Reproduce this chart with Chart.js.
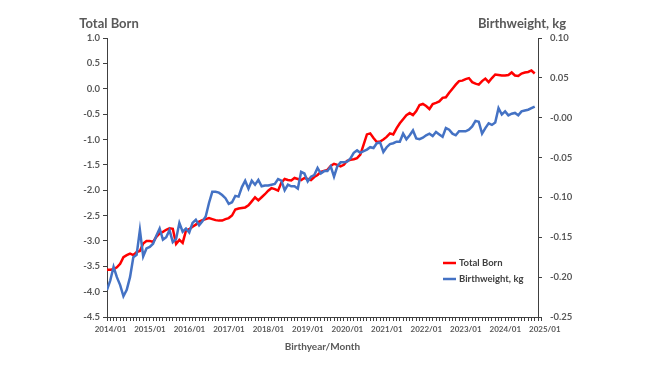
<!DOCTYPE html>
<html>
<head>
<meta charset="utf-8">
<script src="https://cdn.jsdelivr.net/npm/chart.js@4/dist/chart.umd.min.js"></script>
<style>
  html, body { margin: 0; padding: 0; background: #fff; }
  #wrap { width: 650px; height: 366px; }
</style>
</head>
<body>
<div id="wrap"><canvas id="birthChart" width="650" height="366"></canvas></div>
<script>
// yearly tick labels on the x axis (one every 12 months)
const yearLabels = ["2014/01", "2015/01", "2016/01", "2017/01", "2018/01", "2019/01",
  "2020/01", "2021/01", "2022/01", "2023/01", "2024/01", "2025/01"];

// monthly values from 2014/01, left axis
const totalBorn = [
  -3.57, -3.57, -3.56, -3.52, -3.45, -3.32, -3.28, -3.25, -3.28, -3.22, -3.20, -3.05,
  -3.00, -3.00, -3.02, -2.92, -2.85, -2.82, -2.78, -2.75, -2.76, -3.06, -2.98, -3.04,
  -2.80, -2.77, -2.72, -2.68, -2.62, -2.59, -2.57, -2.55, -2.57, -2.59, -2.60, -2.60,
  -2.57, -2.55, -2.50, -2.38, -2.36, -2.35, -2.34, -2.30, -2.22, -2.14, -2.20, -2.14,
  -2.08, -2.01, -1.96, -1.98, -2.01, -1.85, -1.78, -1.80, -1.81, -1.76, -1.78, -1.80,
  -1.76, -1.78, -1.80, -1.74, -1.70, -1.64, -1.62, -1.60, -1.52, -1.48, -1.50, -1.53,
  -1.50, -1.42, -1.40, -1.39, -1.37, -1.30, -1.10, -0.90, -0.88, -0.97, -1.05, -1.04,
  -1.00, -0.95, -0.88, -0.90, -0.78, -0.68, -0.60, -0.52, -0.48, -0.52, -0.44, -0.32,
  -0.30, -0.34, -0.40, -0.30, -0.28, -0.25, -0.18, -0.17, -0.08, 0.00, 0.08, 0.15,
  0.16, 0.19, 0.21, 0.13, 0.10, 0.08, 0.15, 0.20, 0.13, 0.21, 0.28, 0.27,
  0.26, 0.26, 0.27, 0.32, 0.26, 0.25, 0.30, 0.32, 0.33, 0.36, 0.30
];

// monthly values from 2014/01, right axis (kg)
const birthweight = [
  -0.216, -0.204, -0.187, -0.200, -0.210, -0.224, -0.216, -0.200, -0.175, -0.172, -0.141, -0.174,
  -0.164, -0.162, -0.158, -0.148, -0.139, -0.153, -0.150, -0.141, -0.156, -0.152, -0.132, -0.143,
  -0.139, -0.144, -0.132, -0.128, -0.135, -0.130, -0.124, -0.107, -0.093, -0.093, -0.094, -0.097,
  -0.101, -0.108, -0.106, -0.098, -0.099, -0.087, -0.079, -0.089, -0.079, -0.084, -0.078, -0.086,
  -0.085, -0.085, -0.084, -0.083, -0.077, -0.079, -0.091, -0.084, -0.086, -0.086, -0.089, -0.068,
  -0.070, -0.080, -0.074, -0.072, -0.063, -0.070, -0.067, -0.067, -0.061, -0.074, -0.061, -0.056,
  -0.056, -0.055, -0.051, -0.044, -0.041, -0.044, -0.042, -0.040, -0.037, -0.038, -0.032, -0.031,
  -0.043, -0.037, -0.033, -0.032, -0.030, -0.030, -0.020, -0.027, -0.022, -0.016, -0.026, -0.027,
  -0.025, -0.022, -0.020, -0.023, -0.018, -0.021, -0.024, -0.013, -0.015, -0.020, -0.022, -0.017,
  -0.017, -0.017, -0.015, -0.011, -0.004, -0.005, -0.020, -0.013, -0.007, -0.009, -0.006, 0.012,
  0.004, 0.008, 0.003, 0.005, 0.006, 0.003, 0.008, 0.009, 0.010, 0.012, 0.014
];

const seriesNames = ["Total Born", "Birthweight, kg"];
const axisNames = ["Total Born", "Birthweight, kg", "Birthyear/Month"];

const TEXT = "#595959";
const AXIS = "#404040";
const RED = "#FF0000";
const BLUE = "#4472C4";

Chart.defaults.font.family = "Lato, 'Liberation Sans', sans-serif";
Chart.defaults.font.weight = "bold";
Chart.defaults.color = TEXT;

// axis headers above each y axis + small legend inside the plot
const extras = {
  id: "extras",
  afterDraw(chart) {
    const { ctx, chartArea } = chart;
    ctx.save();
    ctx.fillStyle = TEXT;
    ctx.font = "bold 13px Lato";
    ctx.textAlign = "center";
    ctx.textBaseline = "middle";
    ctx.fillText(axisNames[0], chartArea.left + 2, 24);
    ctx.fillText(axisNames[1], chartArea.right - 16, 24);

    ctx.font = "bold 9.5px Lato";
    ctx.textAlign = "left";
    ctx.fillStyle = AXIS;
    chart.data.datasets.forEach((ds, i) => {
      const y = chartArea.bottom - 54 + i * 16;
      ctx.strokeStyle = ds.borderColor;
      ctx.lineWidth = 2.5;
      ctx.beginPath();
      ctx.moveTo(chartArea.left + 336, y);
      ctx.lineTo(chartArea.left + 349, y);
      ctx.stroke();
      ctx.fillText(ds.label, chartArea.left + 352, y);
    });
    ctx.restore();
  }
};

const ctx = document.getElementById("birthChart");

new Chart(ctx, {
  type: "line",
  data: {
    datasets: [
      {
        label: seriesNames[0],
        data: totalBorn.map((v, i) => ({ x: i, y: v })),
        borderColor: RED,
        borderWidth: 2.5,
        pointRadius: 0,
        yAxisID: "y",
        order: 1,
      },
      {
        label: seriesNames[1],
        data: birthweight.map((v, i) => ({ x: i, y: v })),
        borderColor: BLUE,
        borderWidth: 2.5,
        pointRadius: 0,
        yAxisID: "y2",
        order: 0,
      },
    ],
  },
  options: {
    responsive: false,
    animation: false,
    devicePixelRatio: 1,
    layout: { padding: { top: 38, left: 0, right: 0, bottom: 0 } },
    plugins: {
      legend: { display: false },
      tooltip: { enabled: false },
    },
    scales: {
      x: {
        type: "linear",
        min: 0,
        max: 131,
        afterBuildTicks: (axis) => {
          const ticks = [];
          for (let i = 0; i <= (yearLabels.length - 1) * 12; i++) ticks.push({ value: i });
          axis.ticks = ticks;
        },
        afterFit: (axis) => { axis.height = 49; },
        grid: { drawOnChartArea: false, tickLength: 4, color: AXIS },
        border: { color: AXIS },
        ticks: {
          autoSkip: false,
          maxRotation: 0,
          labelOffset: 3.5,
          padding: 4,
          font: { size: 8 },
          callback: (v) => (v % 12 === 0 ? yearLabels[v / 12] : ""),
        },
        title: {
          display: true,
          text: axisNames[2],
          font: { size: 10, weight: "bold" },
          padding: { top: 4, bottom: 13 },
        },
      },
      y: {
        position: "left",
        min: -4.5,
        max: 1.0,
        afterFit: (axis) => { axis.width = 107; },
        grid: { drawOnChartArea: false, tickLength: 4, color: AXIS },
        border: { color: AXIS },
        ticks: {
          stepSize: 0.5,
          padding: 3,
          font: { size: 9.5 },
          callback: (v) => Number(v).toFixed(1),
        },
      },
      y2: {
        position: "right",
        min: -0.25,
        max: 0.10,
        afterFit: (axis) => { axis.width = 112; },
        grid: { drawOnChartArea: false, tickLength: 4, color: AXIS },
        border: { color: AXIS },
        ticks: {
          stepSize: 0.05,
          padding: 8,
          font: { size: 9.5 },
          callback: (v) => Number(v).toFixed(2),
        },
      },
    },
  },
  plugins: [extras],
});
</script>
</body>
</html>
